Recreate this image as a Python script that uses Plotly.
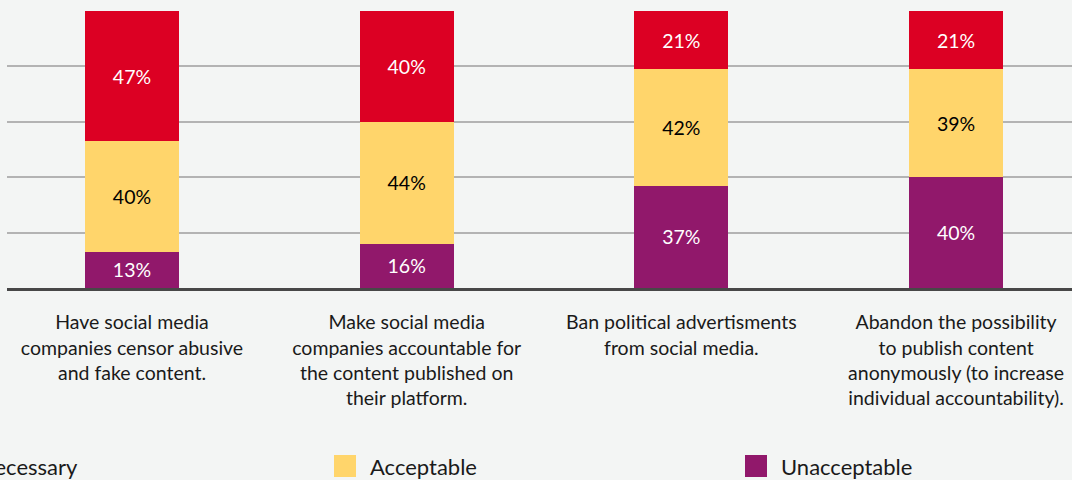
import plotly.graph_objects as go

categories = [
    "Have social media<br>companies censor abusive<br>and fake content.",
    "Make social media<br>companies accountable for<br>the content published on<br>their platform.",
    "Ban political advertisments<br>from social media.",
    "Abandon the possibility<br>to publish content<br>anonymously (to increase<br>individual accountability).",
]
series_names = ["Unacceptable", "Acceptable", "Necessary"]
unacceptable = [13, 16, 37, 40]
acceptable = [40, 44, 42, 39]
necessary = [47, 40, 21, 21]
colors = ["#91186B", "#FFD56B", "#DC0023"]
text_colors = ["white", "black", "white"]

FONT = "Lato"
W, H = 1072, 480
ML, MR, MT, MB = 7, 0, 11, 192

fig = go.Figure()
xs = list(range(len(categories)))
for name, vals, col, tc in zip(series_names, [unacceptable, acceptable, necessary], colors, text_colors):
    fig.add_trace(go.Bar(
        x=xs, y=vals, name=name, marker=dict(color=col, line=dict(width=0)),
        width=0.342, text=[f"{v}%" for v in vals], textposition="inside",
        insidetextanchor="middle", textangle=0,
        textfont=dict(color=tc, size=19.5, family=FONT), showlegend=False,
        cliponaxis=False,
    ))

fig.update_layout(
    barmode="stack", width=W, height=H,
    margin=dict(l=ML, r=MR, t=MT, b=MB, autoexpand=False),
    paper_bgcolor="#F3F5F4", plot_bgcolor="#F3F5F4",
    font=dict(family=FONT, color="#1a1a1a"),
    uniformtext=dict(mode="show", minsize=18),
)
fig.update_xaxes(
    range=[-0.455, 3.422], tickmode="array", tickvals=xs, ticktext=categories,
    tickfont=dict(size=19.5, family=FONT, color="#1a1a1a"), ticks="",
    ticklabelstandoff=15, showline=True, linecolor="#474747", linewidth=3,
    showgrid=False, automargin=False,
)
fig.update_yaxes(
    range=[0, 100], tickvals=[0, 20, 40, 60, 80, 100], showticklabels=False,
    showgrid=True, gridcolor="#B3B3B3", gridwidth=1.5, zeroline=False,
    automargin=False,
)

# legend drawn manually (swatch + label)
pw = W - ML - MR
ph = H - MT - MB
def px2x(px):
    return (px - ML) / pw
def py2y(py):
    return -(py - (H - MB)) / ph

legend_items = [
    ("Necessary", colors[2], -54, "right", 80),
    ("Acceptable", colors[1], 334, "left", 368),
    ("Unacceptable", colors[0], 745, "left", 779),
]
for label, col, sx, anchor, tx in legend_items:
    fig.add_shape(type="rect", xref="paper", yref="paper",
                  x0=px2x(sx), x1=px2x(sx + 22), y0=py2y(455), y1=py2y(477),
                  fillcolor=col, line=dict(width=0))
    fig.add_annotation(xref="paper", yref="paper", x=px2x(tx), y=py2y(467),
                       xanchor=anchor, yanchor="middle", text=label, showarrow=False,
                       font=dict(size=22, family=FONT, color="#1a1a1a"))

fig.write_html("out.html")
